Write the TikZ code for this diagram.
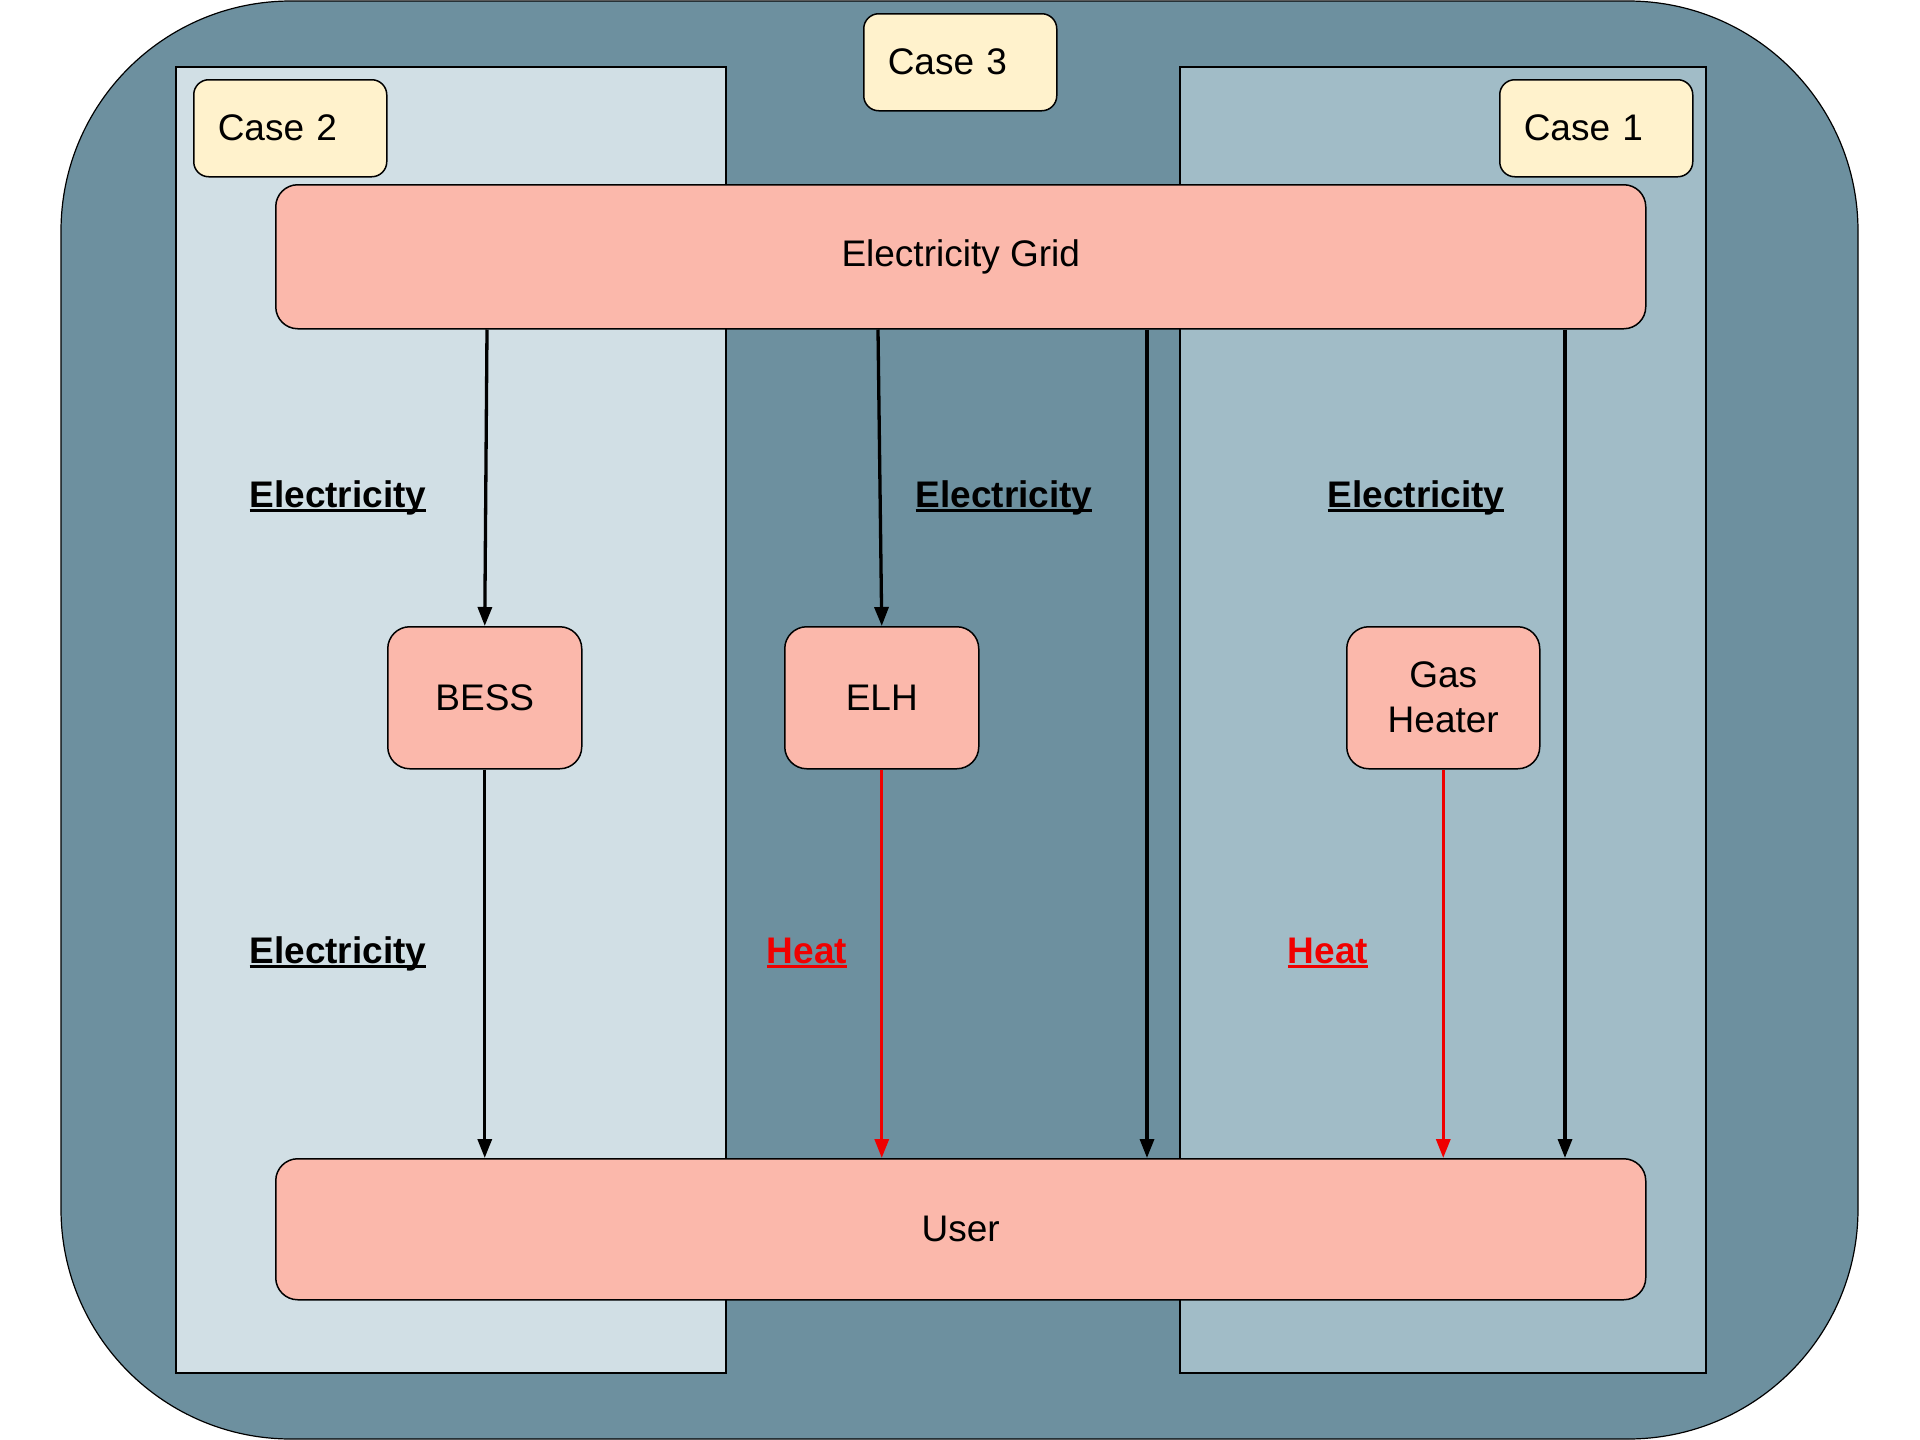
\documentclass[tikz,border=0pt]{standalone}
\usepackage{fontspec}
\setmainfont{Liberation Sans}
\usetikzlibrary{arrows.meta,calc}
\definecolor{outerc}{HTML}{6D909F}
\definecolor{paneA}{HTML}{D1DFE5}
\definecolor{paneB}{HTML}{A1BCC7}
\definecolor{pinkc}{HTML}{FBB8AB}
\definecolor{yellc}{HTML}{FFF2CC}
\definecolor{heatc}{HTML}{F00000}
\newcommand{\ulbox}[1]{\setbox0\hbox{#1}\rlap{\rule[-5pt]{\wd0}{3pt}}\box0}
\begin{document}
\begin{tikzpicture}[x=1pt,y=-1pt,
  every node/.style={font=\fontsize{37}{45}\selectfont},
  pinkbox/.style={draw=black, line width=1.5pt, fill=pinkc, rounded corners=22, inner sep=0, anchor=north west, align=center},
  casebox/.style={draw=black, line width=1.5pt, fill=yellc, rounded corners=15, anchor=north west, minimum height=97, text width=145, inner xsep=24, inner ysep=0, align=left},
  panel/.style={draw=black, line width=1.3pt},
  conn/.style={line width=3.3pt, -{Triangle[length=19pt,width=14pt]}},
  heatconn/.style={conn, draw=heatc, fill=heatc},
  lab/.style={inner sep=0, anchor=base, font=\fontsize{37}{45}\selectfont\bfseries}
]
\useasboundingbox (0,0) rectangle (1920,1440);
% outer frame and case panels
\draw[fill=outerc, line width=1.2pt, rounded corners=230] (61,1) rectangle (1858,1439);
\draw[panel, fill=paneA] (176,67) rectangle (726,1373);
\draw[panel, fill=paneB] (1180,67) rectangle (1706,1373);
% case labels
\node[casebox] (c2) at (193,79) {Case 2};
\node[casebox] (c3) at (863,13) {Case 3};
\node[casebox] (c1) at (1499,79) {Case 1};
% main boxes
\node[pinkbox, minimum width=1370, minimum height=144] (grid) at (275,184) {\raisebox{-3pt}{Electricity Grid}};
\node[pinkbox, minimum width=1370, minimum height=141] (user) at (275,1158) {User};
\node[pinkbox, minimum width=194, minimum height=142] (bess) at (387,626) {BESS};
\node[pinkbox, minimum width=194, minimum height=142] (elh) at (784,626) {ELH};
\node[pinkbox, minimum width=193, minimum height=142] (gas) at (1346,626) {Gas\\Heater};
% connector x positions
\coordinate (xa) at (487,0);
\coordinate (xb) at (878,0);
\coordinate (xc) at (1147,0);
\coordinate (xd) at (1565,0);
% connectors
\draw[conn] (grid.south -| xa) -- (bess.north);
\draw[conn] (bess.south) -- (user.north -| bess.south);
\draw[conn] (grid.south -| xb) -- (elh.north);
\draw[heatconn] (elh.south) -- (user.north -| elh.south);
\draw[conn] (grid.south -| xc) -- (user.north -| xc);
\draw[heatconn] (gas.south) -- (user.north -| gas.south);
\draw[conn] (grid.south -| xd) -- (user.north -| xd);
% labels
\node[lab] (l1) at (338,507) {\ulbox{Electricity}};
\node[lab] (l2) at (1004,507) {\ulbox{Electricity}};
\node[lab] (l3) at (1416,507) {\ulbox{Electricity}};
\node[lab] (l4) at (338,963) {\ulbox{Electricity}};
\node[lab, text=heatc] (h1) at (807,963) {\ulbox{Heat}};
\node[lab, text=heatc] (h2) at (1328,963) {\ulbox{Heat}};
\end{tikzpicture}
\end{document}
